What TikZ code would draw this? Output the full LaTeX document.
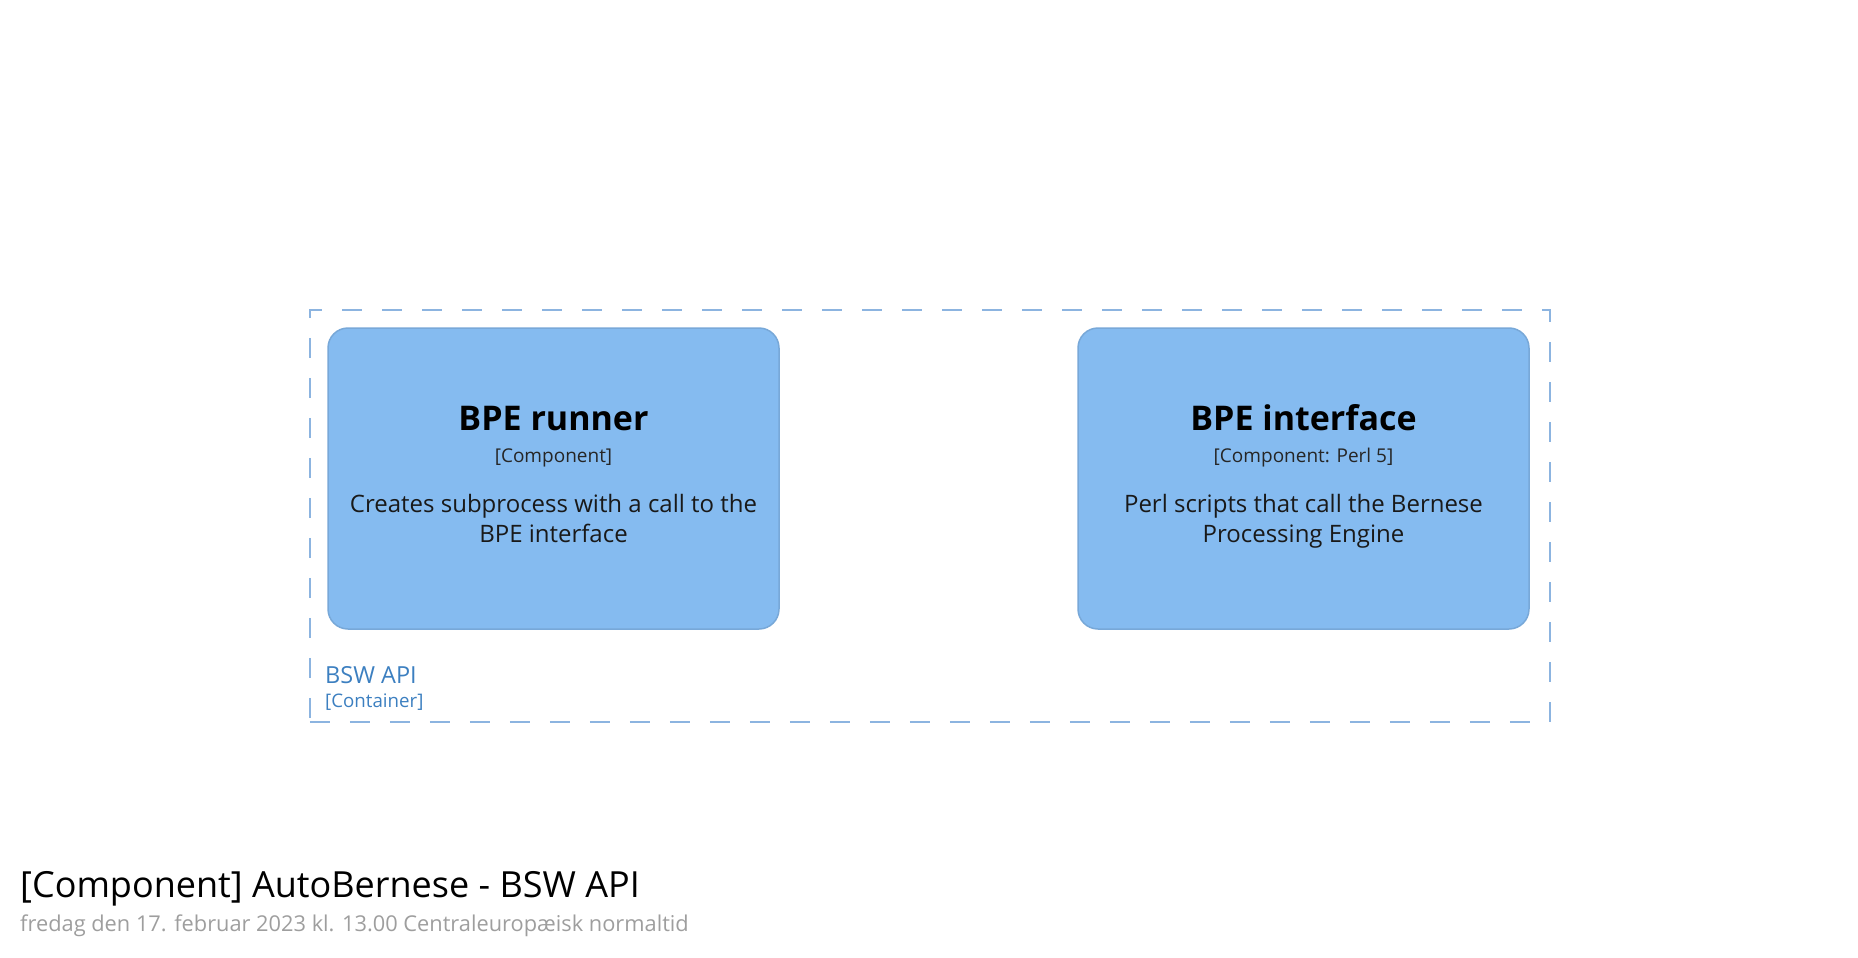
\documentclass[tikz,border=0pt]{standalone}
\usepackage{fontspec}
\setmainfont{Open Sans}
\usetikzlibrary{positioning,calc}
\definecolor{compfill}{HTML}{85BBF0}
\definecolor{compline}{HTML}{78A8D8}
\definecolor{contline}{HTML}{8CB4E0}
\definecolor{conttext}{HTML}{3C7FC0}
\tikzset{
    component/.style={draw=compline, fill=compfill, line width=1.5pt,
        rounded corners=20pt, minimum width=451pt, minimum height=301pt, inner sep=0pt},
    compname/.style={font=\fontsize{34}{40}\selectfont\bfseries, anchor=base, inner sep=0pt},
    comptype/.style={font=\fontsize{19}{23}\selectfont, text=black!85, anchor=base, inner sep=0pt},
    compdesc/.style={font=\fontsize{24}{30}\selectfont, text=black!90, align=center, anchor=base, inner sep=0pt},
    boundary/.style={draw=contline, line width=1.5pt, dash pattern=on 20pt off 20pt,
        minimum width=1240pt, minimum height=412pt, inner sep=0pt},
    boundname/.style={font=\fontsize{23.5}{27}\selectfont, text=conttext, anchor=base west, inner sep=0pt},
    boundtype/.style={font=\fontsize{18.7}{22}\selectfont, text=conttext, anchor=base west, inner sep=0pt},
}

\begin{document}
\begin{tikzpicture}[x=1pt, y=-1pt]
	\useasboundingbox (0,0) rectangle (1858,958);
	% container boundary
	\node[boundary, anchor=north west] (api) at (309,309) {};
	\node[boundname] (apiname) at (325,683) {BSW API};
	\node[boundtype] (apitype) at (325,707) {[Container]};
	% components
	\node[component] (runner) at (553.5,478.5) {};
	\node[compname] (runnername) at ([yshift=48.5pt]runner.center) {BPE runner};
	\node[comptype] (runnertype) at ([yshift=16.5pt]runner.center) {[Component]};
	\node[compdesc] (runnerdesc) at ([yshift=-63.5pt]runner.center) {Creates subprocess with a call to the\\BPE interface};
	\node[component] (iface) at (1303.5,478.5) {};
	\node[compname] (ifacename) at ([yshift=48.5pt]iface.center) {BPE interface};
	\node[comptype] (ifacetype) at ([yshift=16.5pt]iface.center) {[Component: Perl 5]};
	\node[compdesc] (ifacedesc) at ([yshift=-63.5pt]iface.center) {Perl scripts that call the Bernese\\Processing Engine};
	% footer
	\node[anchor=base west, inner sep=0pt, font=\fontsize{36}{40}\selectfont] (title) at (20,897) {[Component] AutoBernese - BSW API};
	\node[anchor=base west, inner sep=0pt, font=\fontsize{21.8}{26}\selectfont, text=black!38] (date) at (20,931) {fredag den 17. februar 2023 kl. 13.00 Centraleuropæisk normaltid};
\end{tikzpicture}
\end{document}
